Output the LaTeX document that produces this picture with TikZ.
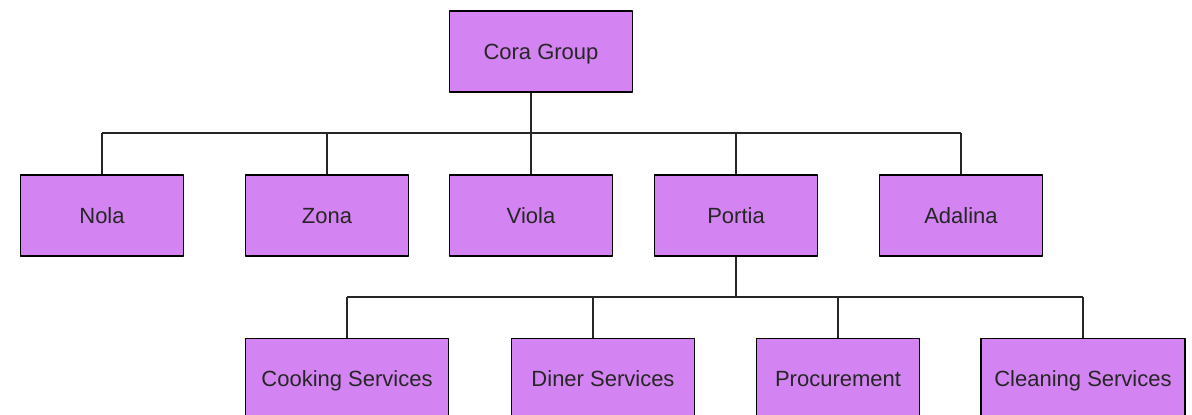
\documentclass[tikz,border=0pt]{standalone}
\usepackage{fontspec}
\setmainfont{Liberation Sans}
\definecolor{boxpurple}{RGB}{212,132,242}
\tikzset{orgbox/.style={draw=black,line width=1.6pt,fill=boxpurple,minimum width=163pt,minimum height=81pt,inner sep=0pt,text height=19pt,text depth=4pt,font=\fontsize{22}{26}\selectfont}}
\begin{document}
\begin{tikzpicture}[x=1pt,y=-1pt,line width=1.6pt,line join=round,color=black!85]
	\useasboundingbox (0,0) rectangle (1192,415);
	\clip (0,0) rectangle (1192,415);
	\node[orgbox,minimum width=183pt](cora) at (541,51.5){Cora Group};
	\node[orgbox](nola) at (102,215.5){Nola};
	\node[orgbox](zona) at (327,215.5){Zona};
	\node[orgbox](viola) at (531,215.5){Viola};
	\node[orgbox](portia) at (736,215.5){Portia};
	\node[orgbox](adalina) at (961,215.5){Adalina};
	\node[orgbox,minimum width=203pt](cooking) at (347,379){Cooking Services};
	\node[orgbox,minimum width=183pt](diner) at (603,379){Diner Services};
	\node[orgbox](procure) at (838,379){Procurement};
	\node[orgbox,minimum width=204pt](cleaning) at (1083,379){Cleaning Services};
	% level one
	\coordinate (busone) at (531,133);
	\draw (cora.south -| viola.north)--(viola.north);
	\draw (nola.north |- busone)--(adalina.north |- busone);
	\foreach \n in {nola,zona,portia,adalina}
		\draw (\n.north)--(\n.north |- busone);
	% level two
	\coordinate (bustwo) at (736,297);
	\draw (portia.south)--(bustwo);
	\draw (cooking.north |- bustwo)--(cleaning.north |- bustwo);
	\draw ([xshift=-10pt]diner.north)--([xshift=-10pt]diner.north |- bustwo);
	\foreach \n in {cooking,procure,cleaning}
		\draw (\n.north)--(\n.north |- bustwo);
\end{tikzpicture}
\end{document}
